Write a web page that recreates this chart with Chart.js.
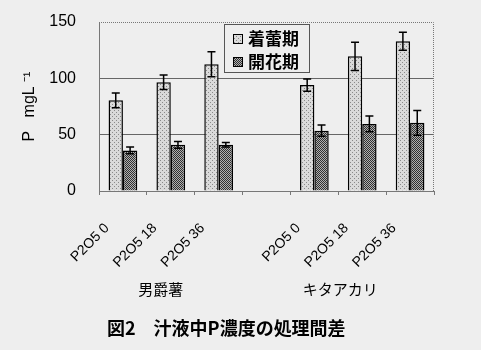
<!DOCTYPE html>
<html><head><meta charset="utf-8">
<script src="https://cdn.jsdelivr.net/npm/chart.js@4"></script>
<style>html,body{margin:0;padding:0;background:#eeeeee;}#wrap{width:481px;height:350px;position:relative;}</style>
</head><body><div id="wrap"><canvas id="c" width="481" height="350"></canvas></div>
<script>
const categories = ['P2O5 0','P2O5 18','P2O5 36','','P2O5 0','P2O5 18','P2O5 36'];
const groupLabels = ['男爵薯','キタアカリ'];
const seriesNames = ['着蕾期','開花期'];
const budValues = [80.5, 96.5, 112.5, null, 94, 119.5, 133];
const budErr = [6.5, 6.5, 11, null, 5.5, 12.5, 8];
const flowerValues = [36, 41, 41, null, 53.5, 59.5, 60.5];
const flowerErr = [3, 3, 2, null, 5, 7, 11];
const yTicks = [0, 50, 100, 150];
const yTitle = 'P   mgL ⁻¹';
const caption = '図2　汁液中P濃度の処理間差';

const cv = document.getElementById('c');
const ctx = cv.getContext('2d');
function pattern(bg, fg, cells){
  const c = document.createElement('canvas'); c.width = 4; c.height = 4;
  const x = c.getContext('2d'); x.fillStyle = bg; x.fillRect(0,0,4,4); x.fillStyle = fg;
  cells.forEach(p => x.fillRect(p[0],p[1],1,1));
  return ctx.createPattern(c,'repeat');
}
const lightPat = pattern('#dadada', '#8a8a8a', [[0,0],[2,2]]);
const darkPat = pattern('#b0b0b0', '#303030', [[0,0],[2,0],[1,1],[3,1],[0,2],[2,2],[1,3],[3,3]]);
const fills = [lightPat, darkPat];
const errs = [budErr, flowerErr];

const bgPlugin = {
  id: 'bg',
  beforeDraw(chart){ const c = chart.ctx; c.save(); c.fillStyle = '#eeeeee'; c.fillRect(0,0,chart.width,chart.height); c.restore(); },
  afterDatasetsDraw(chart){
    const c = chart.ctx, ys = chart.scales.y;
    c.save(); c.strokeStyle = '#000'; c.lineWidth = 1.5;
    chart.data.datasets.forEach((ds, di) => {
      const meta = chart.getDatasetMeta(di);
      meta.data.forEach((bar, i) => {
        const v = ds.data[i], e = errs[di][i];
        if (v == null || e == null) return;
        const x = bar.x, t = ys.getPixelForValue(v + e), b = ys.getPixelForValue(v - e);
        c.beginPath(); c.moveTo(x, t); c.lineTo(x, b);
        c.moveTo(x - 4, t); c.lineTo(x + 4, t);
        c.moveTo(x - 4, b); c.lineTo(x + 4, b); c.stroke();
      });
    });
    c.restore();
  },
  afterDraw(chart){
    const c = chart.ctx, a = chart.chartArea, xs = chart.scales.x;
    c.save();
    c.strokeStyle = '#777'; c.lineWidth = 1; c.setLineDash([1,1]);
    c.beginPath(); c.moveTo(a.left, a.top + 0.5); c.lineTo(a.right - 0.5, a.top + 0.5); c.lineTo(a.right - 0.5, a.bottom); c.stroke();
    c.setLineDash([]);
    const lx = 224, ly = 24, lw = 85, lh = 48;
    c.fillStyle = '#eeeeee'; c.fillRect(lx, ly, lw, lh);
    c.strokeStyle = '#555'; c.lineWidth = 1; c.strokeRect(lx + 0.5, ly + 0.5, lw, lh);
    seriesNames.forEach((n, i) => {
      const sy = ly + 10 + i * 23;
      c.fillStyle = fills[i]; c.fillRect(lx + 9, sy, 10, 10);
      c.strokeStyle = '#000'; c.lineWidth = 1; c.strokeRect(lx + 9.5, sy + 0.5, 9, 9);
      c.fillStyle = '#000'; c.font = 'bold 17px "Noto Sans CJK JP"'; c.textBaseline = 'middle'; c.textAlign = 'left';
      c.fillText(n, lx + 24, sy + 5);
    });
    c.font = '15px "Noto Sans CJK JP"'; c.textAlign = 'center'; c.fillStyle = '#000';
    c.fillText(groupLabels[0], xs.getPixelForValue(1) - 10, 289);
    c.fillText(groupLabels[1], xs.getPixelForValue(5) - 22, 289);
    c.font = 'bold 18px "Noto Sans CJK JP"'; c.textAlign = 'left';
    c.fillText(caption, 107, 328);
    c.restore();
  }
};

new Chart(ctx, {
  type: 'bar',
  data: {
    labels: categories,
    datasets: [
      { label: seriesNames[0], data: budValues, backgroundColor: fills[0], borderColor: '#000', borderWidth: 1.5, barPercentage: 1, categoryPercentage: 0.6 },
      { label: seriesNames[1], data: flowerValues, backgroundColor: fills[1], borderColor: '#000', borderWidth: 1.5, barPercentage: 1, categoryPercentage: 0.6 }
    ]
  },
  options: {
    responsive: false, animation: false,
    layout: { padding: { left: 20, right: 47, top: 22, bottom: 0 } },
    plugins: { legend: { display: false }, tooltip: { enabled: false } },
    scales: {
      x: {
        offset: true,
        grid: { offset: true, drawOnChartArea: false, drawTicks: true, tickLength: 4, color: '#777' },
        border: { color: '#777' },
        ticks: { minRotation: 45, maxRotation: 45, autoSkip: false, labelOffset: -16, padding: 25, color: '#000', font: { family: 'Liberation Sans', size: 14 } },
        afterFit(s){ s.height = 159; }
      },
      y: {
        min: 0, max: 150,
        afterBuildTicks(s){ s.ticks = yTicks.map(v => ({ value: v })); },
        grid: { drawTicks: true, tickLength: 23, tickColor: 'rgba(0,0,0,0)', color: ctx => (ctx.tick && (ctx.tick.value === 50 || ctx.tick.value === 100)) ? '#666' : 'rgba(0,0,0,0)' },
        border: { color: '#777' },
        ticks: { padding: 0, color: '#000', font: { family: 'Liberation Sans', size: 16 } },
        title: { display: true, text: yTitle, color: '#000', padding: 0, font: { family: 'Liberation Sans', size: 16 } },
        afterFit(s){ s.width = 79; }
      }
    }
  },
  plugins: [bgPlugin]
});
</script></body></html>
